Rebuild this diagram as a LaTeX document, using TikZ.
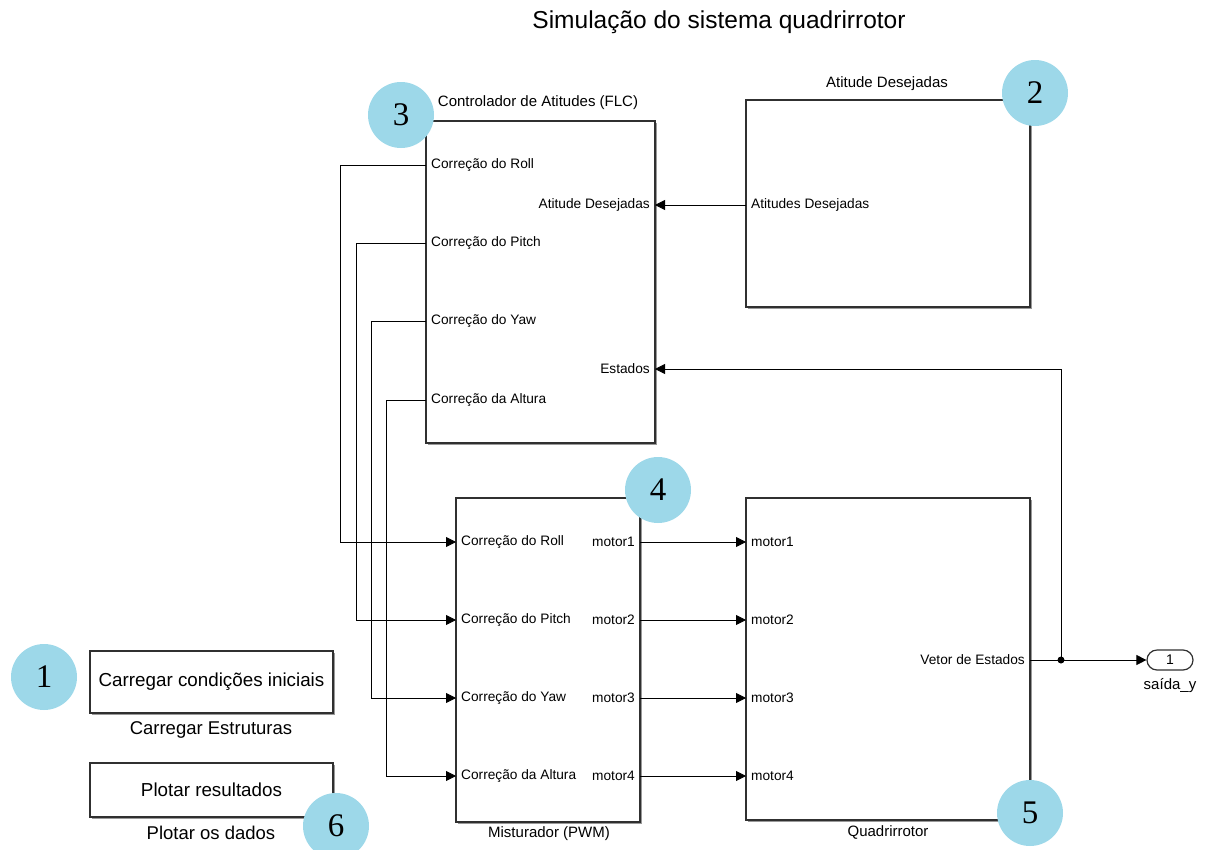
\documentclass[tikz,border=0pt]{standalone}
\usepackage{fontspec}
\setmainfont{Liberation Sans}
\newfontfamily\numfont{Liberation Serif}
\usetikzlibrary{arrows.meta,shadows}
\definecolor{azul}{HTML}{9DD8E9}
\definecolor{borda}{HTML}{303030}

\tikzset{
	bloco/.style={draw=borda, line width=1.4pt, fill=white, inner sep=0pt,
		drop shadow={shadow xshift=1.5pt, shadow yshift=-1.5pt, fill=black!40, opacity=1}},
	porta/.style={font=\fontsize{13.7}{15}\selectfont, inner sep=5pt},
	rotulo/.style={font=\fontsize{15}{17}\selectfont, inner sep=0pt},
	marca/.style={circle, fill=azul, minimum size=66pt, inner sep=0pt, font=\numfont\fontsize{33}{35}\selectfont},
	seta/.style={-{Triangle[length=10pt,width=10pt]}, line width=0.8pt},
	fio/.style={line width=0.8pt}
}

\begin{document}
\begin{tikzpicture}[x=1pt,y=-1pt]
		\useasboundingbox (0,0) rectangle (1205,849);

		\node (titulo) at (719,22) {\fontsize{24.5}{27}\selectfont Simulação do sistema quadrirrotor};

		\node[bloco, minimum width=229pt, minimum height=322pt] (flc)  at (540.5,282) {};
		\node[bloco, minimum width=284pt, minimum height=207pt] (atd)  at (888,203.5) {};
		\node[bloco, minimum width=184pt, minimum height=324pt] (mix)  at (548,660) {};
		\node[bloco, minimum width=284pt, minimum height=322pt] (quad) at (888,659) {};
		\node[bloco, minimum width=243pt, minimum height=62pt, font=\fontsize{18.8}{21}\selectfont] (carr) at (211.5,682) {Carregar condições iniciais};
		\node[bloco, minimum width=243pt, minimum height=54pt, font=\fontsize{18.8}{21}\selectfont] (plot) at (211.5,790) {Plotar resultados};
		\node[draw=borda, line width=1.2pt, rounded corners=10pt, minimum width=46pt, minimum height=20pt, inner sep=0pt, font=\fontsize{14}{16}\selectfont] (saida) at (1170,660) {1};

		\node[rotulo] (flcNome)   at (538,103) {Controlador de Atitudes (FLC)};
		\node[rotulo] (atdNome)   at (887,84)  {Atitude Desejadas};
		\node[rotulo] (mixNome)   at (549,834) {Misturador (PWM)};
		\node[rotulo] (quadNome)  at (888,832) {Quadrirrotor};
		\node[rotulo, font=\fontsize{18.5}{20}\selectfont] (carrNome) at (211,730) {Carregar Estruturas};
		\node[rotulo, font=\fontsize{18.5}{20}\selectfont] (plotNome) at (211,833) {Plotar os dados};
		\node[rotulo] (saidaNome) at (1170,686) {saída\_y};

		\coordinate (flcRoll)   at (426,165);
		\coordinate (flcPitch)  at (426,243);
		\coordinate (flcYaw)    at (426,321);
		\coordinate (flcAlt)    at (426,400);
		\coordinate (flcAtd)    at (655,205);
		\coordinate (flcEst)    at (655,369);
		\coordinate (atdOut)    at (746,205);
		\coordinate (mixRoll)   at (456,542);
		\coordinate (mixPitch)  at (456,620);
		\coordinate (mixYaw)    at (456,698);
		\coordinate (mixAlt)    at (456,776);
		\coordinate (mixM1)     at (640,542);
		\coordinate (mixM2)     at (640,620);
		\coordinate (mixM3)     at (640,698);
		\coordinate (mixM4)     at (640,776);
		\coordinate (quadM1)    at (746,542);
		\coordinate (quadM2)    at (746,620);
		\coordinate (quadM3)    at (746,698);
		\coordinate (quadM4)    at (746,776);
		\coordinate (quadOut)   at (1030,660);
		\coordinate (juncao)    at (1061,660);

		\node[porta, anchor=west] at (flcRoll)  {Correção do Roll};
		\node[porta, anchor=west] at (flcPitch) {Correção do Pitch};
		\node[porta, anchor=west] at (flcYaw)   {Correção do Yaw};
		\node[porta, anchor=west] at (flcAlt)   {Correção da Altura};
		\node[porta, anchor=east] at (flcAtd)   {Atitude Desejadas};
		\node[porta, anchor=east] at (flcEst)   {Estados};
		\node[porta, anchor=west] at (atdOut)   {Atitudes Desejadas};

		\node[porta, anchor=west] at (mixRoll)  {Correção do Roll};
		\node[porta, anchor=west] at (mixPitch) {Correção do Pitch};
		\node[porta, anchor=west] at (mixYaw)   {Correção do Yaw};
		\node[porta, anchor=west] at (mixAlt)   {Correção da Altura};
		\node[porta, anchor=east] at (mixM1)    {motor1};
		\node[porta, anchor=east] at (mixM2)    {motor2};
		\node[porta, anchor=east] at (mixM3)    {motor3};
		\node[porta, anchor=east] at (mixM4)    {motor4};

		\node[porta, anchor=west] at (quadM1)   {motor1};
		\node[porta, anchor=west] at (quadM2)   {motor2};
		\node[porta, anchor=west] at (quadM3)   {motor3};
		\node[porta, anchor=west] at (quadM4)   {motor4};
		\node[porta, anchor=east] at (quadOut)  {Vetor de Estados};

		\draw[seta] (flcRoll)  -- ++(-86,0) |- (mixRoll);
		\draw[seta] (flcPitch) -- ++(-70,0) |- (mixPitch);
		\draw[seta] (flcYaw)   -- ++(-55,0) |- (mixYaw);
		\draw[seta] (flcAlt)   -- ++(-40,0) |- (mixAlt);

		\draw[seta] (atdOut) -- (flcAtd);

		\draw[seta] (mixM1) -- (quadM1);
		\draw[seta] (mixM2) -- (quadM2);
		\draw[seta] (mixM3) -- (quadM3);
		\draw[seta] (mixM4) -- (quadM4);

		\draw[fio]  (quadOut) -- (juncao);
		\draw[seta] (juncao) -- (saida.west);
		\draw[seta] (juncao) |- (flcEst);
		\fill (juncao) circle (3.5pt);

		\node[marca] (m1) at (44,677)   {1};
		\node[marca] (m2) at (1035,93)  {2};
		\node[marca] (m3) at (401,115)  {3};
		\node[marca] (m4) at (658,490)  {4};
		\node[marca] (m5) at (1030,813) {5};
		\node[marca] (m6) at (336,826)  {6};

	\end{tikzpicture}
\end{document}
